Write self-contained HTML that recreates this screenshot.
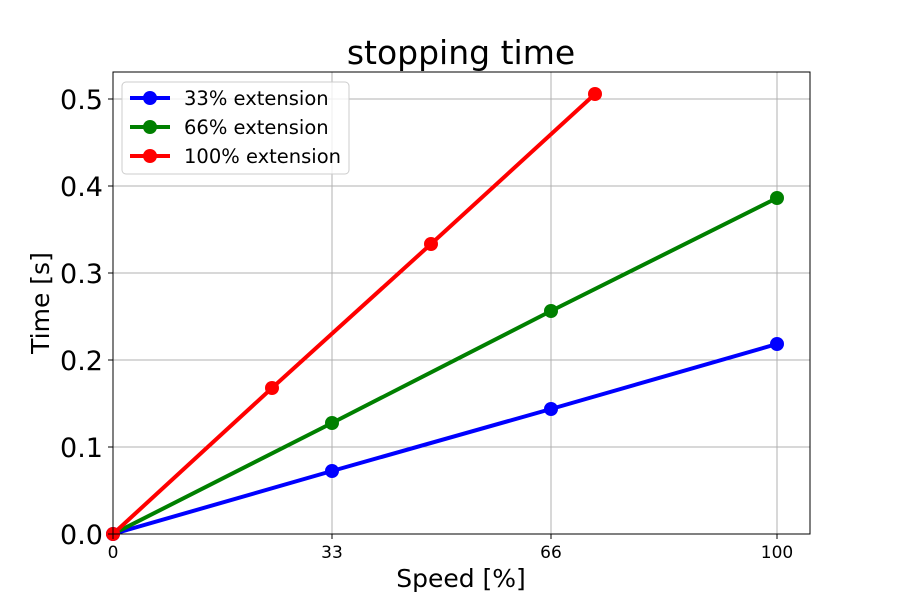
<!DOCTYPE html>
<html><head><meta charset="utf-8"><style>body{margin:0;background:#fff}svg{display:block;font-family:"DejaVu Sans","Liberation Sans",sans-serif}</style></head>
<body>
<svg width="900" height="600" xmlns="http://www.w3.org/2000/svg">
<rect width="900" height="600" fill="#fff"/>
<g stroke="#b0b0b0" stroke-width="1">
<line x1="113" y1="72" x2="113" y2="534"/><line x1="332" y1="72" x2="332" y2="534"/><line x1="551" y1="72" x2="551" y2="534"/><line x1="777" y1="72" x2="777" y2="534"/>
<line x1="113" y1="447" x2="810" y2="447"/><line x1="113" y1="360" x2="810" y2="360"/><line x1="113" y1="273" x2="810" y2="273"/><line x1="113" y1="186" x2="810" y2="186"/><line x1="113" y1="99" x2="810" y2="99"/>
</g>
<g fill="none" stroke-width="4">
<polyline stroke="#0000ff" points="113,534 332,471 551,409 777,344"/>
<polyline stroke="#008000" points="113,534 332,423 551,311 777,198"/>
<polyline stroke="#ff0000" points="113,534 272,388 431,244 595,94"/>
</g>
<g fill="#0000ff"><circle cx="113" cy="534" r="7"/><circle cx="332" cy="471" r="7"/><circle cx="551" cy="409" r="7"/><circle cx="777" cy="344" r="7"/></g>
<g fill="#008000"><circle cx="332" cy="423" r="7"/><circle cx="551" cy="311" r="7"/><circle cx="777" cy="198" r="7"/></g>
<g fill="#ff0000"><circle cx="113" cy="534" r="7"/><circle cx="272" cy="388" r="7"/><circle cx="431" cy="244" r="7"/><circle cx="595" cy="94" r="7"/></g>
<rect x="113" y="72" width="697" height="462" fill="none" stroke="#000" stroke-width="1"/>
<g stroke="#000"><line x1="113" y1="534" x2="113" y2="539"/><line x1="332" y1="534" x2="332" y2="539"/><line x1="551" y1="534" x2="551" y2="539"/><line x1="777" y1="534" x2="777" y2="539"/>
<line x1="108" y1="534" x2="113" y2="534"/><line x1="108" y1="447" x2="113" y2="447"/><line x1="108" y1="360" x2="113" y2="360"/><line x1="108" y1="273" x2="113" y2="273"/><line x1="108" y1="186" x2="113" y2="186"/><line x1="108" y1="99" x2="113" y2="99"/></g>
<g font-size="17" text-anchor="middle"><text x="113" y="558">0</text><text x="332" y="558">33</text><text x="551" y="558">66</text><text x="777" y="558">100</text></g>
<g font-size="27" text-anchor="end"><text x="103" y="544">0.0</text><text x="103" y="457">0.1</text><text x="103" y="370">0.2</text><text x="103" y="283">0.3</text><text x="103" y="196">0.4</text><text x="103" y="109">0.5</text></g>
<text x="461" y="587" font-size="25" text-anchor="middle">Speed [%]</text>
<text transform="translate(49,303) rotate(-90)" font-size="25" text-anchor="middle">Time [s]</text>
<text x="461" y="64" font-size="33" text-anchor="middle">stopping time</text>
<rect x="122" y="82" width="227" height="92" rx="4" fill="#fff" fill-opacity="0.8" stroke="#ccc"/>
<g stroke-width="4"><line x1="130" y1="98" x2="170" y2="98" stroke="#0000ff"/><line x1="130" y1="127" x2="170" y2="127" stroke="#008000"/><line x1="130" y1="156" x2="170" y2="156" stroke="#ff0000"/></g>
<circle cx="150" cy="98" r="7" fill="#0000ff"/><circle cx="150" cy="127" r="7" fill="#008000"/><circle cx="150" cy="156" r="7" fill="#ff0000"/>
<g font-size="19.5"><text x="184" y="105">33% extension</text><text x="184" y="134">66% extension</text><text x="184" y="163">100% extension</text></g>
</svg>
</body></html>
